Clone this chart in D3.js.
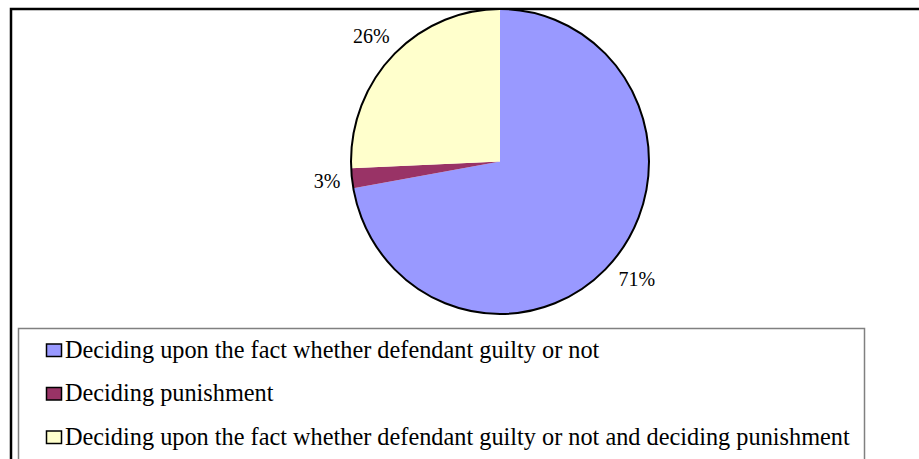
<!DOCTYPE html>
<html>
<head>
<meta charset="utf-8">
<script src="https://cdn.jsdelivr.net/npm/d3@7"></script>
<style>
  body { margin: 0; background: #fff; }
  text { font-family: "Liberation Serif", "Times New Roman", serif; fill: #000; }
</style>
</head>
<body>
<div></div>
<script>
      var outerWidth  = 919;
      var outerHeight = 459;

      // slice data (pie geometry) and printed labels
      var categories = [
        "Deciding upon the fact whether defendant guilty or not",
        "Deciding punishment",
        "Deciding upon the fact whether defendant guilty or not and deciding punishment"
      ];
      var values = [72.2, 2.1, 25.7];
      var labels = ["71%", "3%", "26%"];
      var colors = ["#9999FF", "#993366", "#FFFFCC"];

      var cx = 500, cy = 161.5;
      var rx = 149, ry = 152.5;

      var svg = d3.select("div").append("svg")
        .attr("width",  outerWidth)
        .attr("height", outerHeight)
        .style("display", "block");

      // outer chart frame (runs off right and bottom)
      svg.append("rect")
        .attr("x", 11).attr("y", 9)
        .attr("width", 1000).attr("height", 600)
        .attr("fill", "#fff")
        .attr("stroke", "#000")
        .attr("stroke-width", 2.5);

      // pie
      var pie = d3.pie().sort(null).value(function (d){ return d; });
      var arcs = pie(values);
      var arc = d3.arc().innerRadius(0).outerRadius(rx);

      var g = svg.append("g")
        .attr("transform", "translate(" + cx + "," + cy + ") scale(1," + (ry / rx) + ")");

      g.selectAll("path.slice").data(arcs).enter().append("path")
        .attr("class", "slice")
        .attr("d", arc)
        .attr("fill", function (d, i){ return colors[i]; });

      g.append("circle")
        .attr("r", rx)
        .attr("fill", "none")
        .attr("stroke", "#000")
        .attr("stroke-width", 2)
        .attr("vector-effect", "non-scaling-stroke");

      // data labels, placed just outside the rim
      var labelSize = 20, gap = 11;
      var lg = svg.append("g");
      lg.selectAll("text").data(arcs).enter().append("text")
        .attr("font-size", labelSize)
        .attr("text-anchor", "middle")
        .text(function (d, i){ return labels[i]; })
        .each(function (d){
          var a = (d.startAngle + d.endAngle) / 2;
          var w = this.getComputedTextLength();
          var h = labelSize * 0.72;
          var s = Math.sin(a), c = -Math.cos(a);
          var ext = Math.abs(s) * w / 2 + Math.abs(c) * h / 2;
          var dist = rx + gap + ext;
          var x = cx + s * dist;
          var y = cy + c * dist * (ry / rx);
          d3.select(this).attr("x", x).attr("y", y + h / 2);
        });

      // legend box
      svg.append("rect")
        .attr("x", 18.5).attr("y", 328.5)
        .attr("width", 846).attr("height", 200)
        .attr("fill", "#fff")
        .attr("stroke", "#808080")
        .attr("stroke-width", 1.5);

      var rowY = d3.scalePoint().domain(d3.range(categories.length)).range([350.5, 437.5]);

      var items = svg.selectAll("g.legend").data(categories).enter().append("g")
        .attr("class", "legend")
        .attr("transform", function (d, i){ return "translate(0," + rowY(i) + ")"; });

      items.append("rect")
        .attr("x", 46.5).attr("y", -6.5)
        .attr("width", 15).attr("height", 12.5)
        .attr("fill", function (d, i){ return colors[i]; })
        .attr("stroke", "#000")
        .attr("stroke-width", 1.5);

      items.append("text")
        .attr("x", 65)
        .attr("y", 7)
        .attr("font-size", 24.3)
        .text(function (d){ return d; });
</script>
</body>
</html>
